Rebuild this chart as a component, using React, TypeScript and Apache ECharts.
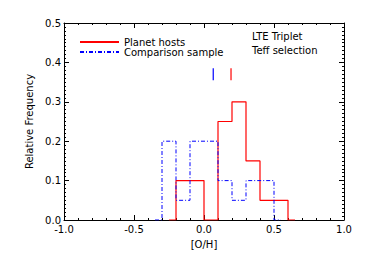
import React, { useEffect, useRef } from "react";
import * as echarts from "echarts";

const redEdges = [-0.2, -0.1, 0.0, 0.1, 0.2, 0.3, 0.4, 0.5];
const redValues = [0.1, 0.1, 0.0, 0.25, 0.3, 0.15, 0.05, 0.05];
const blueEdges = [-0.3, -0.2, -0.1, 0.0, 0.1, 0.2, 0.3, 0.4];
const blueValues = [0.2, 0.05, 0.2, 0.2, 0.1, 0.05, 0.1, 0.1];
const binWidth = 0.1;
const redMean = 0.193;
const blueMean = 0.066;
const meanMarkRange = [0.355, 0.385];
const seriesNames = ["Planet hosts", "Comparison sample"];
const annotations = ["LTE Triplet", "Teff selection"];

function histPoints(edges: number[], values: number[]) {
  const pts: number[][] = [];
  pts.push([edges[0] - binWidth / 2, 0]);
  edges.forEach((e, i) => pts.push([e, values[i]]));
  const last = edges[edges.length - 1] + binWidth;
  pts.push([last, 0]);
  pts.push([last + binWidth / 2, 0]);
  return pts;
}

const FONT = "DejaVu Sans, Verdana, sans-serif";

export default function App() {
  const ref = useRef<HTMLDivElement>(null);
  useEffect(() => {
    if (!ref.current) return;
    const chart = echarts.init(ref.current, undefined, { renderer: "svg" });
    const axisCommon = {
      axisLine: { show: true, onZero: false, lineStyle: { color: "#000", width: 1 } },
      splitLine: { show: false },
    };
    chart.setOption({
      animation: false,
      backgroundColor: "#fff",
      grid: { left: 64, right: 21, top: 23, bottom: 41 },
      legend: {
        data: seriesNames,
        orient: "vertical",
        left: 74,
        top: 32,
        itemWidth: 39,
        itemHeight: 11,
        itemGap: 0,
        itemStyle: { opacity: 0 },
        textStyle: { fontFamily: FONT, fontSize: 10, color: "#000" },
      },
      xAxis: [
        {
          ...axisCommon,
          type: "value",
          min: -1,
          max: 1,
          interval: 0.5,
          name: "[O/H]",
          nameLocation: "middle",
          nameGap: 19,
          nameTextStyle: { fontFamily: FONT, fontSize: 10, color: "#000" },
          axisTick: { show: true, inside: true, length: 5, lineStyle: { color: "#000" } },
          minorTick: { show: true, splitNumber: 5, length: 2, lineStyle: { color: "#000" } },
          axisLabel: {
            fontFamily: FONT,
            fontSize: 10,
            color: "#000",
            margin: 4,
            formatter: (v: number) => v.toFixed(1),
          },
        },
        {
          ...axisCommon,
          type: "value",
          position: "top",
          min: -1,
          max: 1,
          interval: 0.5,
          axisTick: { show: true, inside: true, length: 5, lineStyle: { color: "#000" } },
          minorTick: { show: true, splitNumber: 5, length: 2, lineStyle: { color: "#000" } },
          axisLabel: { show: false },
        },
      ],
      yAxis: [
        {
          ...axisCommon,
          type: "value",
          min: 0,
          max: 0.5,
          interval: 0.1,
          name: "Relative Frequency",
          nameLocation: "middle",
          nameGap: 29,
          nameTextStyle: { fontFamily: FONT, fontSize: 10, color: "#000" },
          axisTick: { show: true, inside: true, length: 5, lineStyle: { color: "#000" } },
          minorTick: { show: true, splitNumber: 10, length: 2, lineStyle: { color: "#000" } },
          axisLabel: {
            fontFamily: FONT,
            fontSize: 10,
            color: "#000",
            margin: 3,
            formatter: (v: number) => v.toFixed(1),
          },
        },
        {
          ...axisCommon,
          type: "value",
          position: "right",
          min: 0,
          max: 0.5,
          interval: 0.1,
          axisTick: { show: true, inside: true, length: 5, lineStyle: { color: "#000" } },
          minorTick: { show: true, splitNumber: 10, length: 2, lineStyle: { color: "#000" } },
          axisLabel: { show: false },
        },
      ],
      graphic: [
        {
          type: "text",
          left: 252,
          top: 31,
          style: { text: annotations[0], font: `10px ${FONT}`, fill: "#000" },
        },
        {
          type: "text",
          left: 252,
          top: 45,
          style: { text: annotations[1], font: `10px ${FONT}`, fill: "#000" },
        },
      ],
      series: [
        {
          name: seriesNames[0],
          type: "line",
          step: "end",
          symbol: "none",
          data: histPoints(redEdges, redValues),
          itemStyle: { color: "#ff0000" },
          lineStyle: { color: "#ff0000", width: 1.2 },
        },
        {
          name: seriesNames[1],
          type: "line",
          step: "end",
          symbol: "none",
          data: histPoints(blueEdges, blueValues),
          itemStyle: { color: "#0000ff" },
          lineStyle: { color: "#0000ff", width: 1, type: [4, 2, 1, 2] },
        },
        {
          name: "redMean",
          type: "line",
          symbol: "none",
          data: [
            [redMean, meanMarkRange[0]],
            [redMean, meanMarkRange[1]],
          ],
          lineStyle: { color: "#ff0000", width: 1.2 },
        },
        {
          name: "blueMean",
          type: "line",
          symbol: "none",
          data: [
            [blueMean, meanMarkRange[0]],
            [blueMean, meanMarkRange[1]],
          ],
          lineStyle: { color: "#0000ff", width: 1.2 },
        },
      ],
    });
    return () => chart.dispose();
  }, []);
  return (
    <div
      ref={ref}
      style={{ position: "fixed", left: 0, top: 0, width: 365, height: 261 }}
    />
  );
}
